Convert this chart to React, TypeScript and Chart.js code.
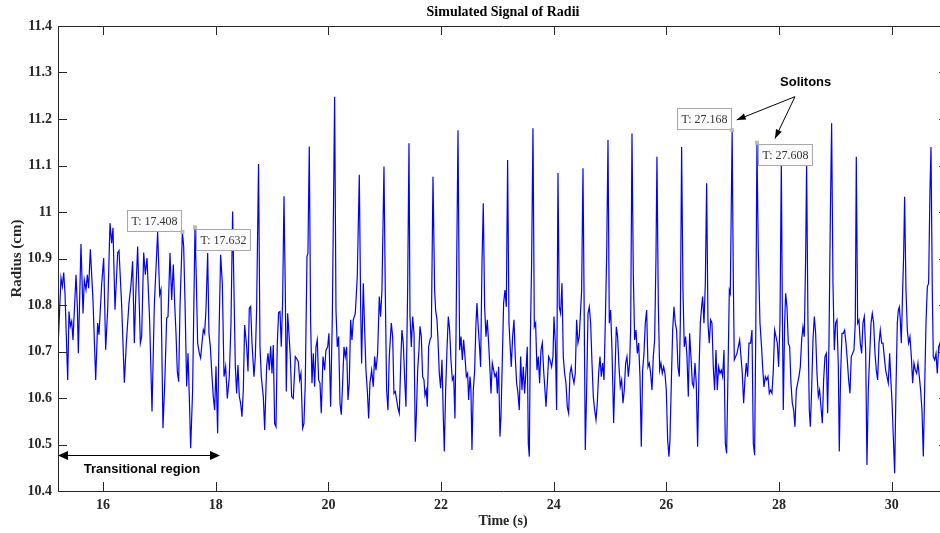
import React, { useEffect, useRef } from "react";
import { Chart, registerables } from "chart.js";

Chart.register(...registerables);

// ---- data (time in s, radius in cm) ----
const T: number[] = [
  15.200, 15.253, 15.277, 15.301, 15.324, 15.372, 15.395, 15.419, 15.443, 15.466,
  15.520, 15.543, 15.561, 15.608, 15.644, 15.667, 15.697, 15.721, 15.744, 15.774,
  15.821, 15.869, 15.904, 15.928, 15.975, 16.011, 16.046, 16.082, 16.123, 16.153,
  16.176, 16.212, 16.259, 16.283, 16.330, 16.378, 16.413, 16.460, 16.496, 16.525,
  16.555, 16.579, 16.614, 16.662, 16.685, 16.721, 16.750, 16.780, 16.827, 16.869,
  16.910, 16.969, 17.005, 17.028, 17.064, 17.099, 17.129, 17.153,
  17.188, 17.218, 17.247, 17.271, 17.295, 17.318, 17.342, 17.366, 17.408, 17.431,
  17.454, 17.484, 17.508, 17.531, 17.555, 17.590, 17.632, 17.655, 17.679, 17.709,
  17.732, 17.756, 17.780, 17.803, 17.827, 17.857, 17.880, 17.904, 17.934, 17.957,
  17.981, 18.005, 18.034, 18.058, 18.087, 18.117, 18.147, 18.176, 18.206, 18.241,
  18.271, 18.300, 18.324, 18.348, 18.371, 18.395, 18.419, 18.442, 18.466, 18.490,
  18.513, 18.549, 18.573, 18.596, 18.620, 18.644, 18.679, 18.703, 18.726, 18.760,
  18.786, 18.809, 18.845, 18.869, 18.904, 18.928, 18.951, 18.975, 18.999, 19.022,
  19.046, 19.070, 19.093,
  19.117, 19.141, 19.164, 19.188, 19.212, 19.235, 19.253, 19.277, 19.300, 19.324,
  19.348, 19.377, 19.413, 19.436, 19.466, 19.490, 19.513, 19.543, 19.566, 19.590,
  19.620, 19.637, 19.661, 19.685, 19.709, 19.732, 19.756, 19.780, 19.803, 19.827,
  19.851, 19.874, 19.904, 19.933, 19.957, 19.987, 20.010, 20.040, 20.070, 20.111,
  20.135, 20.158, 20.182, 20.206, 20.229, 20.253, 20.277, 20.300, 20.324, 20.348,
  20.371, 20.395, 20.419, 20.442, 20.478, 20.513, 20.549, 20.573, 20.590, 20.620,
  20.644, 20.667, 20.691, 20.715, 20.738, 20.768, 20.797, 20.821, 20.845, 20.874,
  20.904, 20.927, 20.951, 20.987, 21.010, 21.034, 21.058, 21.081, 21.117, 21.141,
  21.164, 21.188, 21.212, 21.235, 21.259, 21.288, 21.306, 21.330, 21.353, 21.377,
  21.407, 21.431,
  21.449, 21.472, 21.496, 21.520, 21.543, 21.561, 21.585, 21.608, 21.626, 21.650,
  21.673, 21.697, 21.715, 21.738, 21.756, 21.780, 21.804, 21.827, 21.857, 21.886,
  21.904, 21.928, 21.946, 21.969, 21.993, 22.017, 22.040, 22.058, 22.082, 22.105,
  22.129, 22.153, 22.176, 22.200, 22.224, 22.247, 22.265, 22.301, 22.330, 22.354,
  22.378, 22.401, 22.425, 22.449, 22.472, 22.490, 22.514, 22.531, 22.549, 22.573,
  22.597, 22.620, 22.638, 22.656, 22.679, 22.703, 22.727, 22.750, 22.774, 22.798,
  22.821, 22.845, 22.869, 22.887, 22.910, 22.934, 22.958, 22.981, 22.999, 23.023,
  23.046, 23.064, 23.088, 23.111, 23.135, 23.159, 23.182, 23.206, 23.224, 23.247,
  23.271, 23.295, 23.318, 23.342, 23.366, 23.389, 23.413, 23.437, 23.460, 23.484,
  23.508, 23.531, 23.549, 23.567, 23.585, 23.608, 23.632, 23.656, 23.679, 23.703,
  23.727, 23.750, 23.774, 23.798, 23.821, 23.845, 23.863, 23.887, 23.910, 23.934,
  23.963, 23.987, 24.005, 24.029, 24.052, 24.076, 24.099, 24.123, 24.147, 24.170,
  24.194, 24.218, 24.241, 24.265, 24.289, 24.312, 24.336, 24.360, 24.383, 24.407,
  24.431, 24.454,
  24.496, 24.520, 24.543, 24.561, 24.585, 24.609, 24.632, 24.656, 24.680, 24.703,
  24.727, 24.751, 24.774, 24.798, 24.822, 24.845, 24.869, 24.893, 24.916, 24.940,
  24.964, 24.987, 25.011, 25.035, 25.064, 25.088, 25.112, 25.135, 25.159, 25.182,
  25.206, 25.230, 25.253, 25.277, 25.301, 25.325, 25.348, 25.366, 25.390, 25.413,
  25.437, 25.461, 25.484, 25.508, 25.532, 25.555, 25.579, 25.603, 25.626, 25.650,
  25.674, 25.697, 25.721, 25.745, 25.768, 25.792, 25.816, 25.833, 25.857, 25.881,
  25.904, 25.928, 25.952, 25.975, 25.999, 26.023, 26.046, 26.064, 26.088, 26.112,
  26.135, 26.159, 26.182, 26.206, 26.230, 26.248, 26.271, 26.295, 26.318, 26.342,
  26.366, 26.390, 26.413, 26.437, 26.461, 26.484, 26.508, 26.531, 26.555, 26.579,
  26.603, 26.626, 26.644, 26.668, 26.692, 26.715, 26.739, 26.762, 26.786, 26.810,
  26.833, 26.857, 26.881, 26.904, 26.928, 26.952, 26.975, 26.999, 27.023, 27.047,
  27.070, 27.094, 27.118, 27.135, 27.168, 27.188, 27.206, 27.230, 27.254, 27.277,
  27.301, 27.325, 27.348, 27.372, 27.395, 27.419, 27.443, 27.467,
  27.496, 27.520, 27.544, 27.567, 27.588, 27.608, 27.632, 27.662, 27.686, 27.709,
  27.733, 27.757, 27.780, 27.804, 27.828, 27.851, 27.875, 27.899, 27.922, 27.946,
  27.970, 27.993, 28.017, 28.041, 28.058, 28.076, 28.100, 28.118, 28.141, 28.165,
  28.189, 28.212, 28.236, 28.260, 28.283, 28.307, 28.331, 28.354, 28.378, 28.402,
  28.425, 28.449, 28.473, 28.490, 28.514, 28.538, 28.556, 28.579, 28.603, 28.627,
  28.650, 28.674, 28.698, 28.721, 28.745, 28.769, 28.792, 28.816, 28.840, 28.863,
  28.887, 28.911, 28.934, 28.958, 28.982, 29.005, 29.029, 29.053, 29.070, 29.094,
  29.118, 29.141, 29.165, 29.189, 29.212, 29.236, 29.260, 29.283, 29.307, 29.331,
  29.354, 29.372, 29.396, 29.419, 29.443, 29.467, 29.490, 29.514, 29.538, 29.561,
  29.585, 29.609, 29.633, 29.656, 29.680, 29.704, 29.727, 29.751, 29.775, 29.798,
  29.822, 29.846, 29.869, 29.893, 29.917, 29.940, 29.964, 29.988, 30.005, 30.029,
  30.053, 30.076, 30.100, 30.118, 30.136, 30.153, 30.171, 30.195, 30.212, 30.230,
  30.254, 30.278, 30.301, 30.325, 30.349, 30.372, 30.396, 30.420, 30.443, 30.467,
  30.491, 30.514, 30.538, 30.562, 30.585, 30.609, 30.633, 30.656, 30.680, 30.698,
  30.721, 30.739, 30.763, 30.787, 30.810, 30.834, 30.858, 30.880, 30.920, 30.960,
];

const R: number[] = [
  10.707, 10.858, 10.840, 10.870, 10.826, 10.639, 10.786, 10.754, 10.765, 10.725,
  10.865, 10.797, 10.696, 10.931, 10.782, 10.854, 10.833, 10.865, 10.836, 10.920,
  10.811, 10.639, 10.761, 10.736, 10.844, 10.901, 10.704, 10.790, 10.976, 10.933,
  10.966, 10.790, 10.912, 10.917, 10.800, 10.633, 10.718, 10.804, 10.843, 10.894,
  10.718, 10.818, 10.926, 10.718, 10.732, 10.913, 10.865, 10.901, 10.765, 10.571,
  10.800, 10.957, 10.822, 10.833, 10.535, 10.646, 10.772, 10.775,
  10.912, 10.811, 10.887, 10.804, 10.739, 10.657, 10.635, 10.797, 10.957, 10.926,
  10.811, 10.625, 10.696, 10.603, 10.492, 10.617, 10.967, 10.861, 10.718, 10.696,
  10.686, 10.718, 10.747, 10.739, 10.790, 10.912, 10.739, 10.711, 10.646, 10.603,
  10.574, 10.668, 10.524, 10.732, 10.908, 10.847, 10.646, 10.668, 10.599, 10.646,
  10.761, 11.001, 10.833, 10.668, 10.610, 10.671, 10.603, 10.589, 10.560, 10.617,
  10.757, 10.711, 10.657, 10.793, 10.797, 10.718, 10.646, 10.689, 10.790, 11.103,
  10.710, 10.646, 10.603, 10.531, 10.668, 10.696, 10.660, 10.711, 10.653, 10.714,
  10.545, 10.538, 10.718,
  10.784, 10.786, 10.710, 10.811, 11.034, 10.832, 10.614, 10.782, 10.739, 10.689,
  10.603, 10.599, 10.689, 10.685, 10.678, 10.639, 10.653, 10.535, 10.545, 10.632,
  10.904, 10.911, 11.141, 10.761, 10.632, 10.696, 10.624, 10.710, 10.725, 10.639,
  10.632, 10.567, 10.689, 10.660, 10.703, 10.710, 10.739, 10.581, 10.775, 11.248,
  10.789, 10.710, 10.732, 10.589, 10.564, 10.632, 10.710, 10.689, 10.710, 10.596,
  10.632, 10.768, 10.725, 10.768, 10.782, 10.861, 11.080, 10.796, 10.674, 10.847,
  10.746, 10.660, 10.617, 10.556, 10.632, 10.660, 10.624, 10.689, 10.660, 10.696,
  10.818, 10.775, 10.832, 11.098, 10.832, 10.617, 10.574, 10.689, 10.761, 10.732,
  10.610, 10.614, 10.596, 10.578, 10.567, 10.689, 10.746, 10.718, 10.646, 10.581,
  10.832, 11.148,
  10.775, 10.710, 10.775, 10.739, 10.506, 10.560, 10.660, 10.703, 10.754, 10.732,
  10.646, 10.639, 10.606, 10.617, 10.581, 10.710, 10.725, 10.732, 11.076, 10.832,
  10.789, 10.768, 10.725, 10.653, 10.621, 10.682, 10.560, 10.485, 10.617, 10.703,
  10.775, 10.746, 10.682, 10.639, 10.646, 10.556, 10.725, 11.176, 10.703, 10.732,
  10.682, 10.725, 10.689, 10.646, 10.653, 10.596, 10.646, 10.617, 10.488, 10.617,
  10.660, 10.761, 10.804, 10.761, 10.718, 10.667, 10.890, 11.019, 10.796, 10.732,
  10.768, 10.718, 10.660, 10.610, 10.675, 10.660, 10.646, 10.653, 10.610, 10.667,
  10.517, 10.560, 10.682, 10.804, 10.832, 10.796, 11.112, 10.761, 10.718, 10.667,
  10.732, 10.768, 10.689, 10.632, 10.610, 10.574, 10.689, 10.617, 10.667, 10.610,
  10.660, 10.710, 10.502, 10.474, 10.725, 10.890, 11.180, 10.753, 10.761, 10.660,
  10.689, 10.632, 10.703, 10.718, 10.660, 10.617, 10.581, 10.632, 10.689, 10.682,
  10.667, 10.689, 10.775, 10.718, 10.574, 11.084, 10.796, 10.782, 10.847, 10.689,
  10.653, 10.632, 10.581, 10.567, 10.653, 10.667, 10.646, 10.632, 10.653, 10.768,
  10.718, 10.732,
  10.832, 11.094, 10.761, 10.488, 10.617, 10.782, 10.796, 10.761, 10.675, 10.603,
  10.574, 10.553, 10.589, 10.653, 10.689, 10.646, 10.675, 10.639, 10.761, 10.904,
  11.155, 10.761, 10.789, 10.703, 10.546, 10.653, 10.753, 10.732, 10.667, 10.624,
  10.639, 10.589, 10.617, 10.675, 10.689, 10.646, 10.675, 10.746, 11.169, 10.868,
  10.725, 10.746, 10.696, 10.718, 10.646, 10.495, 10.660, 10.696, 10.761, 10.789,
  10.667, 10.675, 10.653, 10.617, 10.689, 10.725, 10.904, 11.119, 10.804, 10.660,
  10.675, 10.653, 10.667, 10.653, 10.617, 10.510, 10.474, 10.510, 10.632, 10.746,
  10.796, 10.761, 10.746, 10.667, 10.646, 10.761, 11.140, 10.832, 10.710, 10.732,
  10.689, 10.603, 10.739, 10.689, 10.632, 10.624, 10.675, 10.632, 10.495, 10.653,
  10.761, 10.796, 10.818, 10.761, 10.847, 11.062, 10.761, 10.718, 10.768, 10.761,
  10.667, 10.617, 10.703, 10.617, 10.667, 10.653, 10.660, 10.646, 10.703, 10.502,
  10.481, 10.653, 10.832, 10.825, 11.176, 10.861, 10.682, 10.689, 10.696, 10.710,
  10.725, 10.689, 10.653, 10.589, 10.639, 10.675, 10.646, 10.718,
  10.718, 10.746, 10.502, 10.477, 10.750, 11.149, 10.918, 10.761, 10.718, 10.667,
  10.624, 10.646, 10.639, 10.646, 10.610, 10.617, 10.610, 10.660, 10.746, 10.732,
  10.718, 10.667, 10.761, 11.105, 10.804, 10.574, 10.761, 10.825, 10.796, 10.718,
  10.710, 10.632, 10.589, 10.574, 10.538, 10.617, 10.632, 10.646, 10.667, 10.725,
  10.753, 10.732, 10.904, 11.101, 10.761, 10.574, 10.538, 10.617, 10.725, 10.775,
  10.739, 10.653, 10.603, 10.617, 10.581, 10.546, 10.639, 10.689, 10.696, 10.567,
  10.718, 10.990, 11.191, 10.847, 10.703, 10.761, 10.768, 10.667, 10.485, 10.653,
  10.739, 10.739, 10.746, 10.718, 10.682, 10.639, 10.610, 10.689, 10.696, 10.703,
  10.761, 11.119, 10.761, 10.768, 10.718, 10.696, 10.761, 10.775, 10.703, 10.456,
  10.617, 10.689, 10.761, 10.782, 10.761, 10.696, 10.660, 10.639, 10.718, 10.746,
  10.718, 10.718, 10.689, 10.660, 10.646, 10.632, 10.696, 10.632, 10.596, 10.517,
  10.438, 10.617, 10.761, 10.789, 10.796, 10.768, 10.718, 10.832, 10.904, 11.033,
  10.832, 10.746, 10.718, 10.732, 10.689, 10.632, 10.675, 10.660, 10.653, 10.675,
  10.646, 10.617, 10.574, 10.474, 10.617, 10.761, 10.839, 10.847, 11.047, 11.140,
  10.832, 10.689, 10.682, 10.696, 10.653, 10.710, 10.718, 10.660, 10.720, 10.700,
];

const X_TICKS = [16, 18, 20, 22, 24, 26, 28, 30];
const Y_TICKS = [10.4, 10.5, 10.6, 10.7, 10.8, 10.9, 11, 11.1, 11.2, 11.3, 11.4];
const X_MIN = 15.2;
const X_MAX = 31;
const Y_MIN = 10.4;
const Y_MAX = 11.4;

// data tips: time, radius, placement of the label box
const TIP_T = [17.408, 17.632, 27.168, 27.608];
const TIP_R = [10.957, 10.967, 11.176, 11.149];
const TIP_SIDE = ["ul", "lr", "ul", "lr"];

// annotations in data coordinates
const SOLITON_TEXT = { t: 28.473, r: 11.278 };
const SOLITON_FROM = { t: 28.284, r: 11.248 };
const SOLITON_TO = [
  { t: 27.249, r: 11.198 },
  { t: 27.929, r: 11.158 },
];
const TRANS_ARROW = { t0: 15.2, t1: 18.076, r: 10.477 };
const TRANS_TEXT = { t: 16.691, r: 10.447 };

const SERIF = '"Liberation Serif", "Times New Roman", serif';
const SANS = '"Liberation Sans", Arial, sans-serif';
const AXIS_COLOR = "#262626";

function arrowHead(
  ctx: CanvasRenderingContext2D,
  x0: number, y0: number, x1: number, y1: number,
  len: number, hw: number
) {
  const a = Math.atan2(y1 - y0, x1 - x0);
  const c = Math.cos(a), s = Math.sin(a);
  ctx.beginPath();
  ctx.moveTo(x1, y1);
  ctx.lineTo(x1 - len * c + hw * s, y1 - len * s - hw * c);
  ctx.lineTo(x1 - len * c - hw * s, y1 - len * s + hw * c);
  ctx.closePath();
  ctx.fill();
}

const decorPlugin = {
  id: "decor",
  afterDraw(chart: any) {
    const ctx: CanvasRenderingContext2D = chart.ctx;
    const { left, right, top, bottom } = chart.chartArea;
    const xs = chart.scales.x;
    const ys = chart.scales.y;
    ctx.save();

    // axes box
    ctx.strokeStyle = AXIS_COLOR;
    ctx.lineWidth = 1;
    ctx.beginPath();
    ctx.rect(Math.round(left) + 0.5, Math.round(top) + 0.5, Math.round(right - left), Math.round(bottom - top));
    ctx.stroke();

    // inward tick marks
    const TL = 9;
    ctx.beginPath();
    for (const v of X_TICKS) {
      const px = Math.round(xs.getPixelForValue(v)) + 0.5;
      ctx.moveTo(px, bottom);
      ctx.lineTo(px, bottom - TL);
      ctx.moveTo(px, top);
      ctx.lineTo(px, top + TL);
    }
    for (const v of Y_TICKS) {
      const py = Math.round(ys.getPixelForValue(v)) + 0.5;
      ctx.moveTo(left, py);
      ctx.lineTo(left + TL, py);
      ctx.moveTo(right, py);
      ctx.lineTo(right - TL, py);
    }
    ctx.stroke();

    // data tips
    const BW = 54, BH = 21;
    for (let i = 0; i < TIP_T.length; i++) {
      const px = xs.getPixelForValue(TIP_T[i]);
      const py = ys.getPixelForValue(TIP_R[i]);
      let bx: number, by: number;
      if (TIP_SIDE[i] === "ul") {
        bx = px - BW - 1;
        by = py - BH - 1;
      } else {
        bx = px + 1.5;
        by = py + 1.5;
      }
      ctx.fillStyle = "#fbfbfb";
      ctx.fillRect(Math.round(bx) + 0.5, Math.round(by) + 0.5, BW, BH);
      ctx.strokeStyle = "#a8a8a8";
      ctx.lineWidth = 1;
      ctx.strokeRect(Math.round(bx) + 0.5, Math.round(by) + 0.5, BW, BH);
      ctx.fillStyle = "#333333";
      ctx.font = `12px ${SERIF}`;
      ctx.textAlign = "center";
      ctx.textBaseline = "middle";
      ctx.fillText("T: " + TIP_T[i].toFixed(3), Math.round(bx) + 0.5 + BW / 2, Math.round(by) + 1 + BH / 2);
      ctx.fillStyle = "#bcbca4";
      ctx.fillRect(px - 2, py - 2, 4, 4);
    }

    // Solitons annotation
    ctx.fillStyle = "#000";
    ctx.strokeStyle = "#000";
    ctx.lineWidth = 1;
    ctx.font = `bold 13px ${SANS}`;
    ctx.textAlign = "center";
    ctx.textBaseline = "middle";
    ctx.fillText("Solitons", xs.getPixelForValue(SOLITON_TEXT.t), ys.getPixelForValue(SOLITON_TEXT.r));
    const fx = xs.getPixelForValue(SOLITON_FROM.t);
    const fy = ys.getPixelForValue(SOLITON_FROM.r);
    for (const p of SOLITON_TO) {
      const tx = xs.getPixelForValue(p.t);
      const ty = ys.getPixelForValue(p.r);
      ctx.beginPath();
      ctx.moveTo(fx, fy);
      ctx.lineTo(tx, ty);
      ctx.stroke();
      arrowHead(ctx, fx, fy, tx, ty, 9, 3.2);
    }

    // Transitional region double arrow
    const ax0 = xs.getPixelForValue(TRANS_ARROW.t0);
    const ax1 = xs.getPixelForValue(TRANS_ARROW.t1);
    const ay = Math.round(ys.getPixelForValue(TRANS_ARROW.r)) + 0.5;
    ctx.lineWidth = 1.2;
    ctx.beginPath();
    ctx.moveTo(ax0 + 5, ay);
    ctx.lineTo(ax1 - 5, ay);
    ctx.stroke();
    arrowHead(ctx, ax1, ay, ax0, ay, 10, 4.5);
    arrowHead(ctx, ax0, ay, ax1, ay, 10, 4.5);
    ctx.font = `bold 13px ${SANS}`;
    ctx.fillText("Transitional region", xs.getPixelForValue(TRANS_TEXT.t), ys.getPixelForValue(TRANS_TEXT.r));

    ctx.restore();
  },
};

export default function App() {
  const ref = useRef<HTMLCanvasElement | null>(null);

  useEffect(() => {
    if (!ref.current) return;
    const points = T.map((t, i) => ({ x: t, y: R[i] }));
    const tickFont = { family: SERIF, size: 14, weight: "bold" as const };
    const chart = new Chart(ref.current, {
      type: "line",
      data: {
        datasets: [
          {
            data: points,
            borderColor: "#0000ff",
            borderWidth: 1.2,
            pointRadius: 0,
            tension: 0,
            fill: false,
          },
        ],
      },
      options: {
        animation: false,
        responsive: false,
        devicePixelRatio: 1,
        layout: { padding: { left: 0, right: 12, top: 0, bottom: 0 } },
        plugins: {
          legend: { display: false },
          tooltip: { enabled: false },
          title: {
            display: true,
            text: "Simulated Signal of Radii",
            fullSize: false,
            color: "#000",
            font: { family: SERIF, size: 14, weight: "bold" },
            padding: { top: 4, bottom: 5.2 },
          },
        },
        scales: {
          x: {
            type: "linear",
            min: X_MIN,
            max: X_MAX,
            afterBuildTicks: (s: any) => {
              s.ticks = X_TICKS.map((v) => ({ value: v }));
            },
            afterFit: (s: any) => {
              s.height = 42;
            },
            ticks: {
              autoSkip: false,
              maxRotation: 0,
              padding: 6,
              color: AXIS_COLOR,
              font: tickFont,
              callback: (v: any) => String(v),
            },
            grid: { display: false, drawTicks: false },
            border: { display: false },
            title: {
              display: true,
              text: "Time (s)",
              color: AXIS_COLOR,
              font: { family: SERIF, size: 14, weight: "bold" },
              padding: { top: 0, bottom: 3.6 },
            },
          },
          y: {
            type: "linear",
            min: Y_MIN,
            max: Y_MAX,
            afterBuildTicks: (s: any) => {
              s.ticks = Y_TICKS.map((v) => ({ value: v }));
            },
            afterFit: (s: any) => {
              s.width = 58;
            },
            ticks: {
              autoSkip: false,
              padding: 6,
              color: AXIS_COLOR,
              font: tickFont,
              callback: (v: any) => String(Number(Number(v).toFixed(1))),
            },
            grid: { display: false, drawTicks: false },
            border: { display: false },
            title: {
              display: true,
              text: "Radius (cm)",
              color: AXIS_COLOR,
              font: { family: SERIF, size: 15, weight: "bold" },
              padding: { top: 8.5, bottom: 0 },
            },
          },
        },
      },
      plugins: [decorPlugin],
    });
    return () => chart.destroy();
  }, []);

  return (
    <div
      style={{
        position: "fixed",
        left: 0,
        top: 0,
        width: 940,
        height: 533,
        overflow: "hidden",
        background: "#fff",
      }}
    >
      <canvas ref={ref} width={960} height={533} style={{ display: "block" }} />
    </div>
  );
}
